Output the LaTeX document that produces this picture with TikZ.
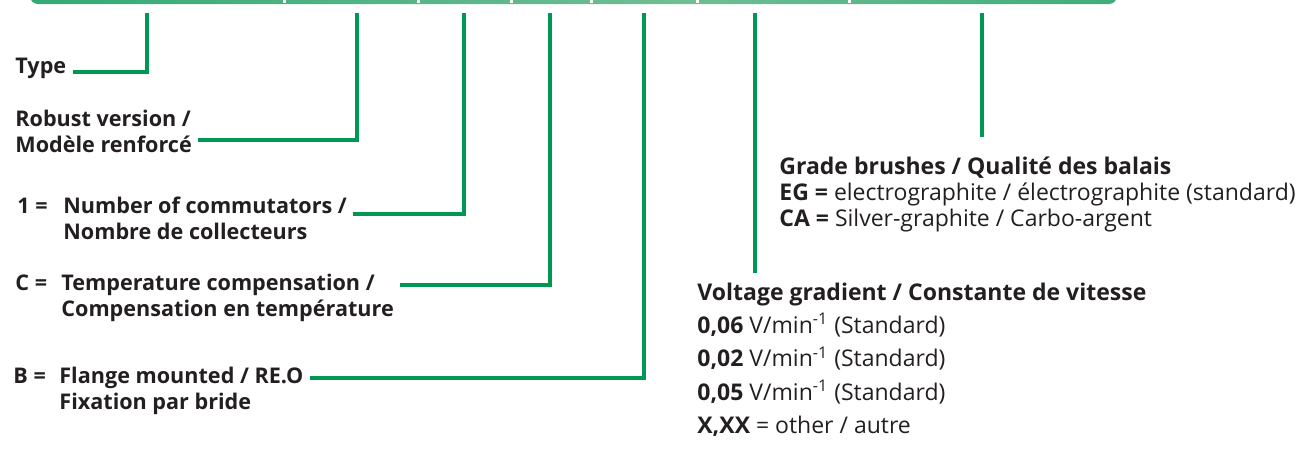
\documentclass[tikz,border=0pt]{standalone}
\usepackage{fontspec}
\setmainfont{Open Sans}
\definecolor{balkenDunkel}{RGB}{0,152,94}
\definecolor{balkenHell}{RGB}{112,190,146}
\definecolor{leitgruen}{RGB}{0,150,84}
\definecolor{schrift}{RGB}{35,31,32}
\pgfdeclarehorizontalshading{balken}{100bp}{color(0bp)=(balkenDunkel); color(55bp)=(balkenHell); color(100bp)=(balkenDunkel)}
\newcommand{\vorsatz}[1]{\makebox[23pt][l]{#1}}
\tikzset{
  leitung/.style={draw=leitgruen, line width=2pt},
  beschr/.style={anchor=base west, inner sep=0pt, text=schrift, font=\fontsize{10.8}{13}\selectfont\bfseries},
  liste/.style={anchor=base west, inner sep=0pt, text=schrift, font=\fontsize{11.5}{13}\selectfont},
}
\begin{document}
\begin{tikzpicture}[x=0.5pt, y=-0.5pt]
  \useasboundingbox (0,0) rectangle (1313,450);
  % Balken oben
  \shade[shading=balken, rounded corners=4pt] (30,-20) rectangle (1117,4);
  \foreach \g in {284,418,511,591,697,849}
    \fill[white] (\g-1.5,-20) rectangle (\g+1.5,3);
  % Abgriffe am Balken
  \foreach \n/\x in {typ/147, robust/357, komm/464, temp/550, flansch/644, spann/755, buerste/982}
    \coordinate (a\n) at (\x,13);

  % Beschriftungen links
  \node[beschr] (typ) at (15,73) {Type};
  \node[beschr] (robust) at (15,126)
    {\begin{tabular}[t]{@{}l@{}}Robust version /\\ Modèle renforcé\end{tabular}};
  \node[beschr] (komm) at (17,213)
    {\begin{tabular}[t]{@{}l@{}l@{}}\vorsatz{1 =} & Number of commutators /\\ & Nombre de collecteurs\end{tabular}};
  \node[beschr] (temp) at (15,290)
    {\begin{tabular}[t]{@{}l@{}l@{}}\vorsatz{C =} & Temperature compensation /\\ & Compensation en température\end{tabular}};
  \node[beschr] (flansch) at (13,383)
    {\begin{tabular}[t]{@{}l@{}l@{}}\vorsatz{B =} & Flange mounted / RE.O\\ & Fixation par bride\end{tabular}};

  % Beschriftungen rechts
  \node[liste] (buerste) at (779,174)
    {\begin{tabular}[t]{@{}l@{}}\textbf{Grade brushes / Qualité des balais}\\
      \textbf{EG =} electrographite / électrographite (standard)\\
      \textbf{CA =} Silver-graphite / Carbo-argent\end{tabular}};
  \node[liste, font=\fontsize{11.5}{16.7}\selectfont] (spann) at (697,300)
    {\begin{tabular}[t]{@{}l@{}}\textbf{Voltage gradient / Constante de vitesse}\\
      \textbf{0,06} V/min\textsuperscript{-1} (Standard)\\
      \textbf{0,02} V/min\textsuperscript{-1} (Standard)\\
      \textbf{0,05} V/min\textsuperscript{-1} (Standard)\\
      \textbf{X,XX} = other / autre\end{tabular}};

  % Enden der Leitungen
  \coordinate (etyp) at ([xshift=3pt]typ.east |- 0,72);
  \coordinate (erobust) at ([xshift=3pt]robust.east |- 0,140);
  \coordinate (ekomm) at ([xshift=3pt]komm.east |- 0,214);
  \coordinate (etemp) at ([xshift=3pt]temp.east |- 0,285);
  \coordinate (eflansch) at ([xshift=3pt]flansch.east |- 0,378);
  \coordinate (espann) at (aspann |- 0,273);
  \coordinate (ebuerste) at (abuerste |- 0,137);

  % Leitungen
  \foreach \n in {typ, robust, komm, temp, flansch}
    \draw[leitung] (a\n) |- (e\n);
  \foreach \n in {spann, buerste}
    \draw[leitung] (a\n) -- (e\n);
\end{tikzpicture}
\end{document}
